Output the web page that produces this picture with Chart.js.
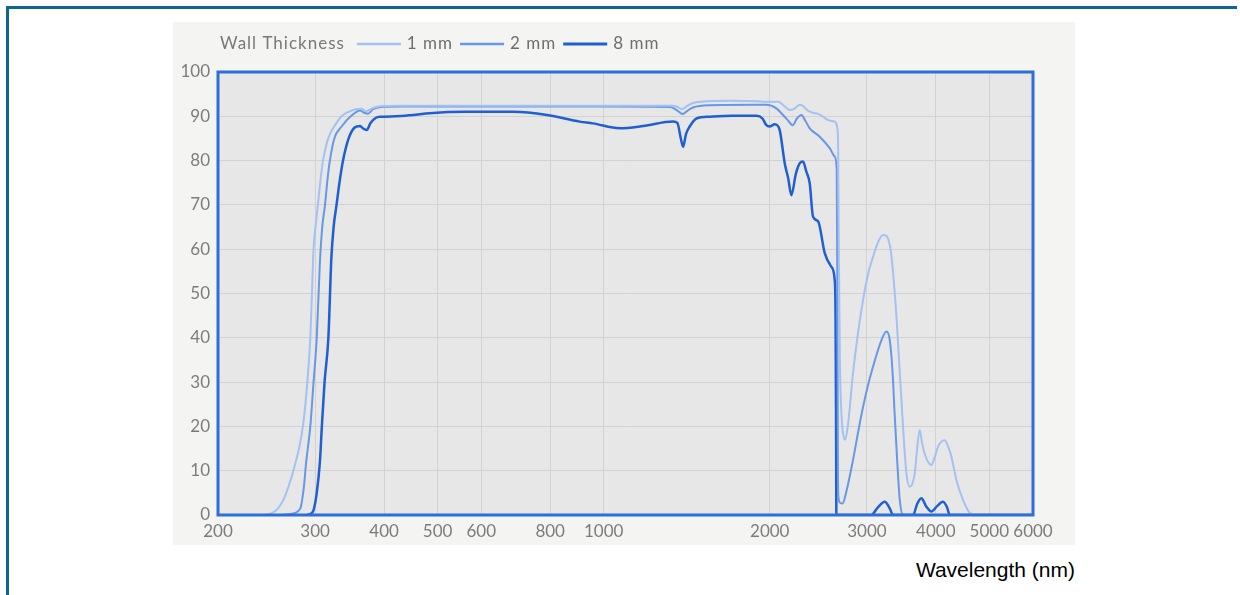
<!DOCTYPE html>
<html>
<head>
<meta charset="utf-8">
<script src="https://cdn.jsdelivr.net/npm/chart.js@4.4.1/dist/chart.umd.min.js"></script>
<style>
body{margin:0;background:#fff;width:1240px;height:595px;overflow:hidden;position:relative;font-family:"Liberation Sans",Arial,sans-serif}
#frame{position:absolute;left:6px;top:6px;width:1228px;height:620px;border-top:3px solid #0c6594;border-left:3px solid #0c6594}
#chart-box{position:absolute;left:173px;top:22px;width:902px;height:523px;background:#f4f4f2}
#xtitle{position:absolute;right:165px;top:558px;font-size:21px;line-height:24px;color:#000}
</style>
</head>
<body>
<div id="frame"></div>
<div id="chart-box"><canvas id="transmission" width="902" height="523"></canvas></div>
<div id="xtitle">Wavelength (nm)</div>
<script>
const xTicks = [200, 300, 400, 500, 600, 800, 1000, 2000, 3000, 4000, 5000, 6000]
const xTickLabels = ['200', '300', '400', '500', '600', '800', '1000', '2000', '3000', '4000', '5000', '6000']
const legendTitle = 'Wall Thickness'
const seriesNames = ['1 mm', '2 mm', '8 mm']

// wavelength (nm) / transmission (%)
const wl_1mm = [240,249,257,264,271,276,281,285,289,292,294,296,298,301,304,307,310,315,320,326,335,345,355,364,371,378,390,420,600,1000,1330,1362,1386,1420,1452,1500,1700,1900,1972,2070,2130,2174,2210,2266,2300,2343,2393,2440,2500,2548,2600,2630,2650,2660,2668,2680,2700,2725,2740,2770,2831,2890,2952,3010,3078,3140,3210,3255,3300,3324,3360,3394,3430,3465,3500,3538,3587,3625,3663,3700,3739,3780,3818,3870,3926,3980,4036,4090,4150,4210,4268,4358,4480,4606,4750,6000]
const t_1mm = [0,0.3,1.5,4,8,11.5,15.5,20,27,34,40,50,60,66,71,76,80,84,86.3,88,90,91,91.6,91.7,91.1,91.6,92.2,92.4,92.4,92.4,92.4,92.1,91.6,92.4,93.0,93.3,93.5,93.4,93.3,93.3,92.2,91.4,91.6,92.6,92.3,91.3,90.8,90.6,89.9,89.2,88.9,88.7,87.5,84,60,35,22,17.5,17,20,32,41,48.5,54,58.3,61.5,63.2,63.0,61,58.3,52,44.8,35,26,17,9.4,6.4,7,9.4,15,19.2,16,13.9,12,11.3,13,15.4,16.5,16.9,15.5,13.2,7.9,3.4,0.5,0,0]

const wl_2mm = [262,272,282,286,289,294,298,302,306,309,312.6,316,319,325,335,348,362,368,374,382,395,430,1000,1320,1360,1390,1420,1452,1550,1900,1972,2056,2114,2150,2202,2240,2283,2320,2363,2464,2569,2623,2645,2652,2658,2664,2680,2710,2750,2831,2890,2952,3010,3078,3188,3255,3300,3340,3370,3405,3441,3489,6000]
const t_2mm = [0,0.3,1.5,6,12,20,30,40,57,65,70,76,80,85,87.7,90,91.3,90.8,90.6,91.6,92.1,92.2,92.2,92.1,91.3,90.5,91.3,92.0,92.5,92.6,92.6,91.8,90.3,89.3,88,89.5,90.3,89,87.3,85.4,82.8,80.9,78,50,10,4,2.8,2.6,5,12.4,18.5,24.4,29,33.5,39.5,41.4,39.5,32,22.2,12,3.4,0,0]

const wl_8mm = [290,294,298,302,306,308.5,312,317,321,324,328,332,337,345,354,362,366,372,378,386,393,420,451,484,560,686,789,905,956,1070,1179,1336,1360,1380,1393,1410,1432,1473,1557,1714,1892,1940,1972,2000,2042,2085,2100,2129,2160,2189,2230,2270,2298,2330,2363,2396,2447,2516,2587,2623,2632,2638,2641,3058,3130,3232,3300,3346,3638,3700,3766,3840,3926,4020,4120,4190,4238,6000]
const t_8mm = [0,0.2,1.1,5,12,20,30,40,58,65,70,75,80,85,87.5,87.8,87.3,86.9,88.5,89.6,89.9,90.0,90.3,90.7,91.0,91.0,90.3,88.8,88.4,87.3,87.8,88.8,88.5,85,83.1,86,87.7,89.5,89.9,90.1,90.1,89.5,88.0,87.7,88.2,86.9,84.6,79.4,76,72.2,77,79.5,79.8,77.5,74.9,67.3,66.3,59.1,56,53,45,20,0,0,1.5,3.0,1.5,0,0,2.5,3.8,2,0.8,2.0,3.0,1.8,0,0]

const toPoints = function (xs, ys) {
    return xs.map((x, i) => ({ x: x, y: ys[i] }))
}

// plot background + blue frame round the chart area
const plotFrame = {
    id: 'plotFrame',
    beforeDraw(chart) {
        const { ctx, chartArea: a } = chart
        ctx.save()
        ctx.fillStyle = '#e7e7e7'
        ctx.fillRect(a.left, a.top, a.right - a.left, a.bottom - a.top)
        ctx.restore()
    },
    afterDatasetsDraw(chart) {
        const { ctx, chartArea: a } = chart
        ctx.save()
        ctx.strokeStyle = '#2c6fd9'
        ctx.lineWidth = 3
        ctx.strokeRect(a.left, a.top, a.right - a.left, a.bottom - a.top)
        ctx.restore()
    }
}

// "Wall Thickness  ── 1 mm ── 2 mm ── 8 mm" row above the plot
const wallLegend = {
    id: 'wallLegend',
    afterDraw(chart) {
        const ctx = chart.ctx
        const y = 22
        let x = chart.chartArea.left + 2
        ctx.save()
        ctx.font = '17px Lato'
        if ('letterSpacing' in ctx) ctx.letterSpacing = '1px'
        ctx.textBaseline = 'middle'
        ctx.fillStyle = '#787878'
        ctx.fillText(legendTitle, x, y)
        x += ctx.measureText(legendTitle).width + 12
        chart.data.datasets.forEach(ds => {
            ctx.strokeStyle = ds.borderColor
            ctx.lineWidth = ds.borderWidth + 0.5
            ctx.beginPath()
            ctx.moveTo(x, y)
            ctx.lineTo(x + 44, y)
            ctx.stroke()
            x += 50
            ctx.fillStyle = '#6e6e6e'
            ctx.fillText(ds.label, x, y)
            x += ctx.measureText(ds.label).width + 7
        })
        ctx.restore()
    }
}

const tickFont = { family: 'Lato', size: 17 }

const ctx = document.getElementById('transmission').getContext('2d')
new Chart(ctx, {
    type: 'line',
    data: {
        datasets: [
            { label: seriesNames[0], data: toPoints(wl_1mm, t_1mm), borderColor: '#a3c1f1', borderWidth: 2 },
            { label: seriesNames[1], data: toPoints(wl_2mm, t_2mm), borderColor: '#6797e6', borderWidth: 2 },
            { label: seriesNames[2], data: toPoints(wl_8mm, t_8mm), borderColor: '#1f5fd2', borderWidth: 2.5 }
        ]
    },
    options: {
        responsive: false,
        animation: false,
        layout: { padding: { top: 50, right: 42, left: 0, bottom: 0 } },
        elements: {
            point: { radius: 0 },
            line: { cubicInterpolationMode: 'monotone' }
        },
        plugins: {
            legend: { display: false },
            tooltip: { enabled: false }
        },
        scales: {
            x: {
                type: 'logarithmic',
                min: 200,
                max: 6000,
                afterBuildTicks: axis => { axis.ticks = xTicks.map(v => ({ value: v })) },
                afterFit: axis => { axis.height = 30 },
                grid: { color: '#d2d2d2', drawTicks: false },
                border: { display: false },
                ticks: {
                    autoSkip: false,
                    maxRotation: 0,
                    padding: 6,
                    color: '#7c7c7c',
                    font: tickFont,
                    callback: (v, i) => xTickLabels[i]
                }
            },
            y: {
                min: 0,
                max: 100,
                afterFit: axis => { axis.width = 45 },
                grid: { color: '#d2d2d2', drawTicks: false },
                border: { display: false },
                ticks: { stepSize: 10, padding: 8, color: '#7c7c7c', font: tickFont }
            }
        }
    },
    plugins: [plotFrame, wallLegend]
})
</script>
</body>
</html>
